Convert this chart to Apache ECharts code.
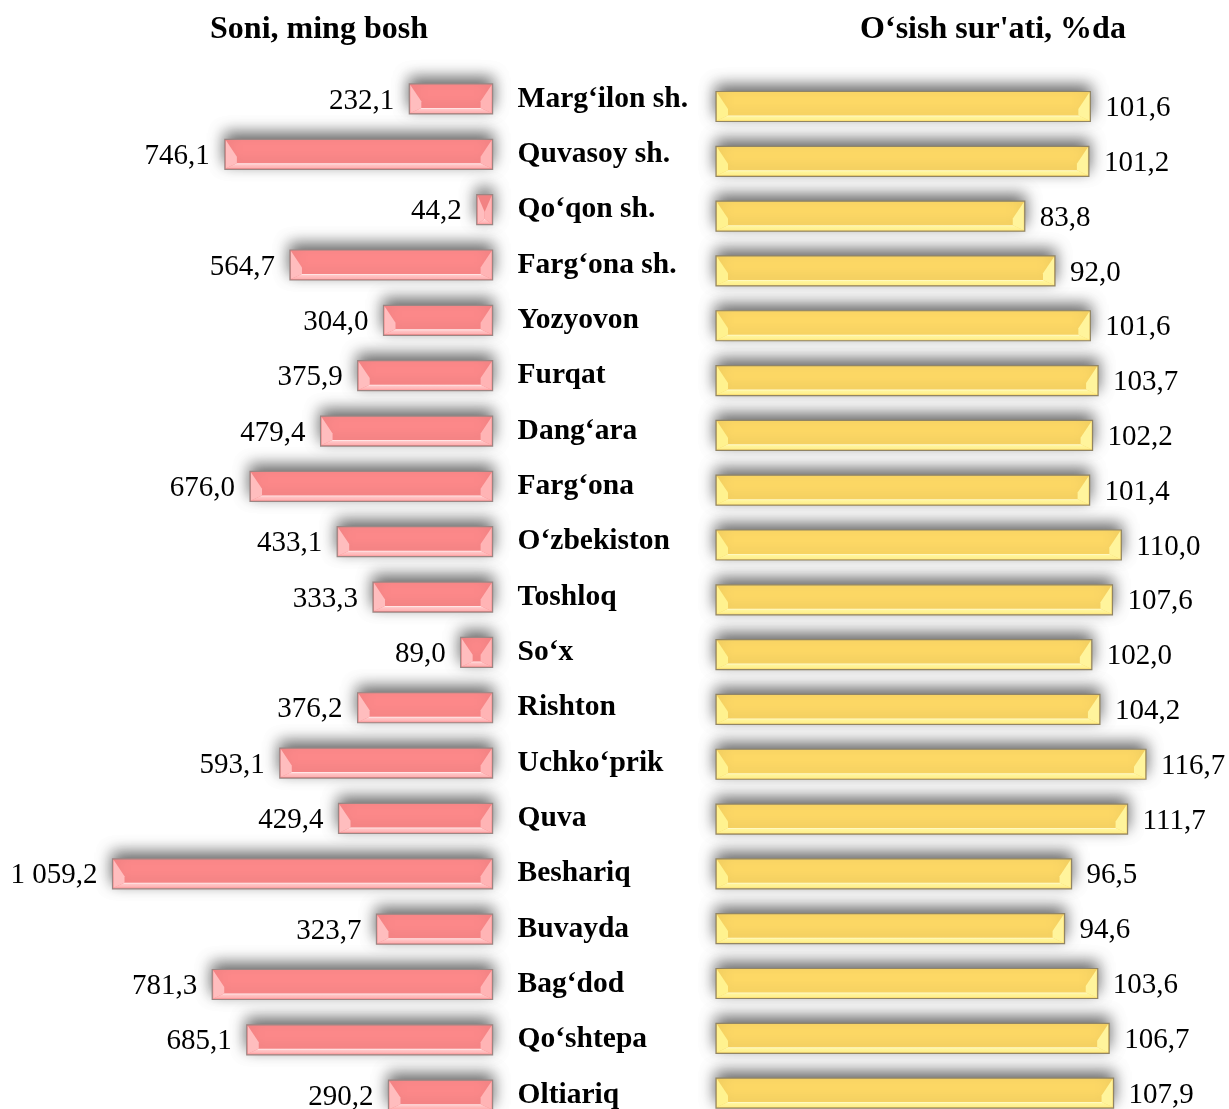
<!DOCTYPE html>
<html>
<head>
<meta charset="utf-8">
<script src="https://cdn.jsdelivr.net/npm/echarts@6/dist/echarts.min.js"></script>
<style>
  html, body { margin: 0; padding: 0; background: #ffffff; }
  #chart { width: 1229px; height: 1109px; }
</style>
</head>
<body>
<div id="chart"></div>
<script>
// Districts and cities, top to bottom
const categories = [
  'Marg‘ilon sh.', 'Quvasoy sh.', 'Qo‘qon sh.', 'Farg‘ona sh.', 'Yozyovon',
  'Furqat', 'Dang‘ara', 'Farg‘ona', 'O‘zbekiston', 'Toshloq', 'So‘x',
  'Rishton', 'Uchko‘prik', 'Quva', 'Beshariq', 'Buvayda', 'Bag‘dod',
  'Qo‘shtepa', 'Oltiariq'
];
// Head count, thousand
const countValues = [
  232.1, 746.1, 44.2, 564.7, 304.0, 375.9, 479.4, 676.0, 433.1, 333.3,
  89.0, 376.2, 593.1, 429.4, 1059.2, 323.7, 781.3, 685.1, 290.2
];
// Growth rate, percent
const growthValues = [
  101.6, 101.2, 83.8, 92.0, 101.6, 103.7, 102.2, 101.4, 110.0, 107.6,
  102.0, 104.2, 116.7, 111.7, 96.5, 94.6, 103.6, 106.7, 107.9
];
const leftTitle = 'Soni, ming bosh';
const rightTitle = 'O‘sish sur\'ati, %da';

const SERIF = '"Liberation Serif", "Times New Roman", serif';

function fmt(v) {
  const parts = v.toFixed(1).split('.');
  const intPart = parts[0].replace(/\B(?=(\d{3})+(?!\d))/g, ' ');
  return intPart + ',' + parts[1];
}

// Bevelled bar drawn from the axis origin to the value, with a value label at its end
// (and, for the left panel, the row name just right of the origin)
function bevelBar(pal, barH, side) {
  return function (params, api) {
    const v = api.value(0);
    const row = api.value(1);
    const p0 = api.coord([0, row]);
    const p1 = api.coord([v, row]);
    const x0 = Math.min(p0[0], p1[0]);
    const x1 = Math.max(p0[0], p1[0]);
    const y0 = p0[1] - barH / 2;
    const y1 = p0[1] + barH / 2;
    const ym = y0 + barH * 0.58;
    const w = x1 - x0;
    const h = Math.min(12, w / 2);
    const b = 6;
    const children = [
      { type: 'rect', shape: { x: x0, y: y0, width: w, height: barH },
        style: { fill: pal.base, stroke: pal.border, lineWidth: 1.2,
          shadowBlur: 15, shadowColor: 'rgba(0,0,0,0.6)', shadowOffsetX: 0, shadowOffsetY: -6 } },
      { type: 'polygon', shape: { points: [[x0 + 1, y1 - 1], [x1 - 1, y1 - 1], [x1 - h, y1 - b], [x0 + h, y1 - b]] },
        style: { fill: { type: 'linear', x: 0, y: 0, x2: 0, y2: 1,
          colorStops: [{ offset: 0, color: pal.shine }, { offset: 0.3, color: pal.light }, { offset: 1, color: pal.lightEdge }] } } },
      { type: 'polygon', shape: { points: [[x0 + 1, y0 + 1], [x0 + h, ym], [x0 + h, y1 - b], [x0 + 1, y1 - 1]] },
        style: { fill: pal.end } },
      { type: 'polygon', shape: { points: [[x1 - 1, y0 + 1], [x1 - h, ym], [x1 - h, y1 - b], [x1 - 1, y1 - 1]] },
        style: { fill: pal.end2 } },
      { type: 'text',
        style: {
          text: fmt(v),
          x: side === 'left' ? x0 - 15 : x1 + 15,
          y: p0[1] + 2,
          align: side === 'left' ? 'right' : 'left',
          verticalAlign: 'middle',
          fill: '#000',
          font: '29px ' + SERIF
        } }
    ];
    if (side === 'left') {
      children.push({ type: 'text',
        style: {
          text: categories[row],
          x: p0[0] + 25,
          y: p0[1],
          align: 'left',
          verticalAlign: 'middle',
          fill: '#000',
          font: 'bold 29.5px ' + SERIF
        } });
    }
    return { type: 'group', children: children };
  };
}

const pink = {
  base: '#ff8a8b', border: '#9c8684',
  shine: '#fff2f2', light: '#ffc6c7', lightEdge: '#ffaeaf',
  end: '#ffbdbe', end2: '#ffb4b5'
};
const yellow = {
  base: '#ffda66', border: '#918565',
  shine: '#fffbd2', light: '#fff59c', lightEdge: '#ffee8a',
  end: '#fff28f', end2: '#fff49c'
};

const chart = echarts.init(document.getElementById('chart'), null, { renderer: 'canvas' });

chart.setOption({
  backgroundColor: '#ffffff',
  animation: false,
  title: [
    { text: leftTitle, left: 314, top: 9, textAlign: 'center',
      textStyle: { fontFamily: SERIF, fontWeight: 'bold', fontSize: 32, color: '#000' } },
    { text: rightTitle, left: 988, top: 9, textAlign: 'center',
      textStyle: { fontFamily: SERIF, fontWeight: 'bold', fontSize: 32, color: '#000' } }
  ],
  grid: [
    { left: 62, width: 430.6, top: 71.3, bottom: 0 },
    { left: 716, width: 479, top: 79.1, bottom: 0 }
  ],
  xAxis: [
    { gridIndex: 0, type: 'value', min: 0, max: 1200, inverse: true, show: false },
    { gridIndex: 1, type: 'value', min: 0, max: 130, show: false }
  ],
  // Row index axes: half a row of padding at the top, rows 55 px apart
  yAxis: [
    { gridIndex: 0, type: 'value', min: -0.5, max: 18.25, inverse: true, show: false },
    { gridIndex: 1, type: 'value', min: -0.5, max: 18.29, inverse: true, show: false }
  ],
  series: [
    { type: 'custom', name: leftTitle, xAxisIndex: 0, yAxisIndex: 0,
      renderItem: bevelBar(pink, 30, 'left'), clip: false,
      encode: { x: 0, y: 1 },
      data: countValues.map((v, i) => [v, i]) },
    { type: 'custom', name: rightTitle, xAxisIndex: 1, yAxisIndex: 1,
      renderItem: bevelBar(yellow, 30, 'right'), clip: false,
      encode: { x: 0, y: 1 },
      data: growthValues.map((v, i) => [v, i]) }
  ]
});
</script>
</body>
</html>
